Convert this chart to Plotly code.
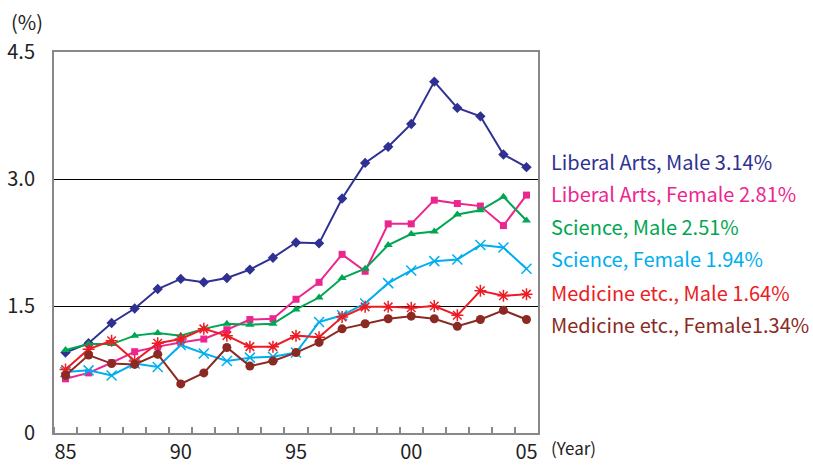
import plotly.graph_objects as go

years = list(range(1985, 2006))
x_tick_vals = [1985, 1990, 1995, 2000, 2005]
x_tick_text = ["85", "90", "95", "00", "05"]
y_tick_vals = [0, 1.5, 3.0, 4.5]
y_tick_text = ["0", "1.5", "3.0", "4.5"]

liberal_male = [0.95, 1.06, 1.30, 1.47, 1.70, 1.82, 1.78, 1.83, 1.93, 2.07, 2.25,
                2.24, 2.77, 3.19, 3.38, 3.65, 4.15, 3.84, 3.74, 3.29, 3.14]
liberal_female = [0.64, 0.71, 0.83, 0.96, 1.02, 1.07, 1.11, 1.22, 1.34, 1.35, 1.58,
                  1.78, 2.11, 1.91, 2.47, 2.47, 2.75, 2.71, 2.68, 2.45, 2.81]
science_male = [0.98, 1.05, 1.05, 1.15, 1.18, 1.15, 1.23, 1.29, 1.28, 1.29, 1.46,
                1.60, 1.83, 1.94, 2.22, 2.35, 2.38, 2.58, 2.63, 2.79, 2.51]
science_female = [0.72, 0.74, 0.68, 0.82, 0.78, 1.04, 0.94, 0.85, 0.89, 0.90, 0.95,
                  1.31, 1.39, 1.53, 1.77, 1.92, 2.03, 2.05, 2.22, 2.19, 1.94]
medicine_male = [0.75, 0.99, 1.09, 0.85, 1.06, 1.11, 1.23, 1.15, 1.02, 1.02, 1.15,
                 1.13, 1.37, 1.49, 1.49, 1.48, 1.50, 1.39, 1.68, 1.62, 1.64]
medicine_female = [0.68, 0.92, 0.82, 0.81, 0.93, 0.58, 0.71, 1.01, 0.79, 0.85, 0.95,
                   1.07, 1.23, 1.29, 1.35, 1.38, 1.35, 1.26, 1.34, 1.45, 1.34]

labels = ["Liberal Arts, Male 3.14%", "Liberal Arts, Female 2.81%",
          "Science, Male 2.51%", "Science, Female 1.94%",
          "Medicine etc., Male 1.64%", "Medicine etc., Female1.34%"]

FONT = "Noto Sans CJK JP"

series = [
    (liberal_male, "#2E3192", "diamond", 8, 0),
    (liberal_female, "#EC268F", "square", 7, 0),
    (science_male, "#00A651", "triangle-up", 8, 0),
    (science_female, "#00AEEF", "x-thin-open", 10, 1.5),
    (medicine_male, "#ED1C24", "asterisk-open", 10, 1.5),
    (medicine_female, "#8B2A23", "circle", 9, 0),
]

fig = go.Figure()
for (vals, color, sym, size, lw), name in zip(series, labels):
    fig.add_trace(go.Scatter(
        x=years, y=vals, mode="lines+markers", name=name,
        line=dict(color=color, width=2),
        marker=dict(symbol=sym, size=size, color=color,
                    line=dict(color=color, width=lw)),
        showlegend=False,
    ))

# legend-like labels on the right
label_y_px = [161, 193.5, 226.5, 258.5, 292, 324.5]
plot_top, plot_bottom = 52, 433
for (vals, color, sym, size, lw), name, ypx in zip(series, labels, label_y_px):
    fig.add_annotation(
        text=name, xref="paper", yref="paper",
        x=(549 - 54) / 484, y=(plot_bottom - ypx) / (plot_bottom - plot_top),
        xanchor="left", yanchor="middle", showarrow=False,
        font=dict(family=FONT, size=20, color=color),
    )

fig.add_annotation(text="(%)", xref="paper", yref="paper",
                   x=(27 - 54) / 484, y=(plot_bottom - 21) / (plot_bottom - plot_top),
                   xanchor="center", yanchor="middle", showarrow=False,
                   font=dict(family=FONT, size=20, color="#222"))
fig.add_annotation(text="(Year)", xref="paper", yref="paper",
                   x=(549 - 54) / 484, y=(plot_bottom - 447) / (plot_bottom - plot_top),
                   xanchor="left", yanchor="middle", showarrow=False,
                   font=dict(family=FONT, size=17, color="#222"))

fig.update_layout(
    width=813, height=468,
    margin=dict(l=54, r=275, t=52, b=35),
    plot_bgcolor="white", paper_bgcolor="white",
    font=dict(family=FONT, color="#222"),
    xaxis=dict(
        range=[1984.5, 2005.5], automargin=False,
        tickvals=x_tick_vals, ticktext=x_tick_text,
        ticks="", showgrid=False, zeroline=False,
        showline=True, linecolor="#888888", linewidth=2, mirror=True,
        tickfont=dict(family=FONT, size=20, color="#222"),
        minor=dict(tickvals=[y + 0.5 for y in range(1984, 2005)],
                   ticks="inside", ticklen=6, tickcolor="#888888", tickwidth=1.5,
                   showgrid=False),
    ),
    yaxis=dict(
        range=[0, 4.5], automargin=False,
        tickvals=y_tick_vals, ticktext=y_tick_text,
        ticks="", showgrid=True, gridcolor="black", gridwidth=1,
        zeroline=False,
        showline=True, linecolor="#888888", linewidth=2, mirror=True,
        tickfont=dict(family=FONT, size=20, color="#222"),
        ticklabelstandoff=13,
    ),
)

fig.write_html("out.html")
